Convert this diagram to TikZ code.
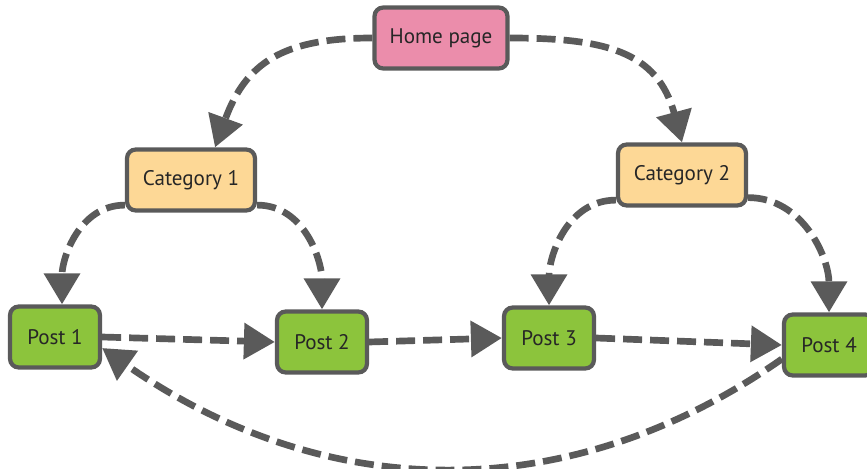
\documentclass[tikz,border=0pt]{standalone}
\usepackage{tikz}
\usepackage{fontspec}
\setmainfont{PT Sans}
\usetikzlibrary{arrows.meta}
\definecolor{pagepink}{HTML}{EB8DAB}
\definecolor{catyellow}{HTML}{FDD896}
\definecolor{postgreen}{HTML}{8CC43C}
\definecolor{edgegray}{HTML}{5A5A5A}

\begin{document}
\begin{tikzpicture}[scale=1.0,
		box/.style={draw=edgegray,line width=2.4pt,rounded corners=5pt,minimum height=1.22cm,font=\fontsize{12}{14}\selectfont,text=black!85},
		home/.style={box,fill=pagepink,minimum width=2.66cm},
		cat/.style={box,fill=catyellow,minimum width=2.56cm},
		post/.style={box,fill=postgreen,minimum width=1.80cm},
		link/.style={draw=edgegray,line width=3.8pt,dash pattern=on 0.38cm off 0.16cm,-{Triangle[length=0.62cm,width=0.7cm]}}]
				\useasboundingbox (0,0) rectangle (17.34,-9.38);
				\node[home] (home) at (8.82,-0.76) {Home page};
				\node[cat] (cat1) at (3.82,-3.60) {Category 1};
				\node[cat] (cat2) at (13.64,-3.50) {Category 2};
				\node[post] (post1) at (1.10,-6.74) {Post 1};
				\node[post] (post2) at (6.44,-6.84) {Post 2};
				\node[post] (post3) at (10.98,-6.76) {Post 3};
				\node[post] (post4) at (16.58,-6.90) {Post 4};
				\draw[link] (home.west) to[out=180,in=70,looseness=1.2] ([xshift=0.48cm]cat1.north);
				\draw[link] (home.east) to[out=0,in=105,looseness=1.2] (cat2.north);
				\draw[link] ([yshift=0.15cm]cat1.south west) to[out=180,in=90] ([xshift=0.14cm]post1.north);
				\draw[link] ([yshift=0.15cm]cat1.south east) to[out=0,in=90] (post2.north);
				\draw[link] ([yshift=0.15cm]cat2.south west) to[out=180,in=90] (post3.north);
				\draw[link] ([yshift=0.2cm]cat2.south east) to[out=0,in=90] (post4.north);
				\draw[link] (post1.east) -- (post2.west);
				\draw[link] (post2.east) -- (post3.west);
				\draw[link] (post3.east) -- (post4.west);
				\draw[link] ([yshift=-0.28cm]post4.west) to[out=215,in=-35] ([yshift=-0.22cm]post1.east);
			\end{tikzpicture}
\end{document}
